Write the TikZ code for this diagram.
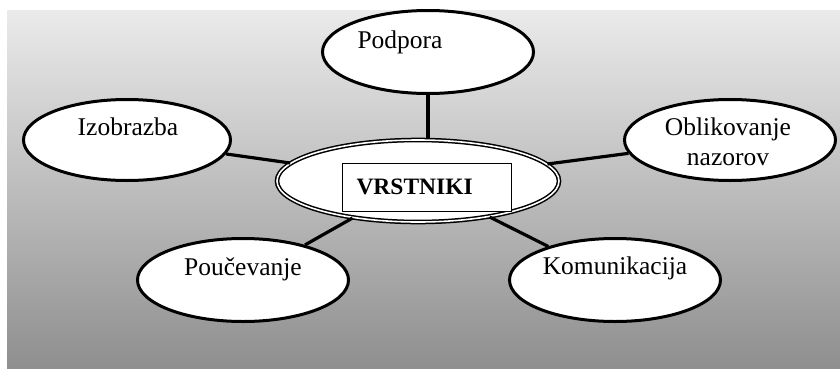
\documentclass[tikz,border=0pt]{standalone}
\usepackage{fontspec}
\setmainfont{Liberation Serif}
\usetikzlibrary{shapes.geometric}
\tikzset{
  bubble/.style={ellipse, draw, line width=3pt, fill=white, inner sep=0pt,
    minimum width=211pt, minimum height=83pt},
  label text/.style={anchor=base, font=\fontsize{25.5}{30}\selectfont},
  link/.style={line width=3.2pt},
}
\begin{document}
\begin{tikzpicture}[x=1pt,y=-1pt]
\useasboundingbox (0,0) rectangle (840,370);
\shade[top color=black!8, middle color=black!22, bottom color=black!44] (7,10) rectangle (840,368);

\node[bubble, minimum width=207pt, minimum height=81pt] (izobrazba) at (127,140) {};
\node[bubble] (podpora) at (428,52) {};
\node[bubble, minimum height=81pt] (oblikovanje) at (730,140) {};
\node[bubble] (poucevanje) at (243,280) {};
\node[bubble] (komunikacija) at (615,280) {};
\node[ellipse, draw, double, double distance=1.6pt, line width=1.5pt, fill=white,
  inner sep=0pt, minimum width=282pt, minimum height=82pt] (vrstniki) at (418,181) {};

\draw[link] (podpora) -- (podpora |- vrstniki.north);
\draw[link] (izobrazba) -- (vrstniki);
\draw[link] (oblikovanje) -- (vrstniki);
\draw[link] (poucevanje) -- (vrstniki);
\draw[link] (komunikacija) -- (vrstniki);

\node[label text] (podpora text) at (400,48) {Podpora};
\node[label text] (izobrazba text) at (128,135) {Izobrazba};
\node[label text, align=center] (oblikovanje text) at (728,165) {Oblikovanje\\nazorov};
\node[label text] (poucevanje text) at (243,275) {Poučevanje};
\node[label text] (komunikacija text) at (615,274) {Komunikacija};
\node[draw, line width=0.8pt, fill=white, minimum height=48pt, text width=141pt,
  inner xsep=14pt, align=left, font=\bfseries\fontsize{23.5}{28}\selectfont] (box) at (427,187) {VRSTNIKI};
\end{tikzpicture}
\end{document}
